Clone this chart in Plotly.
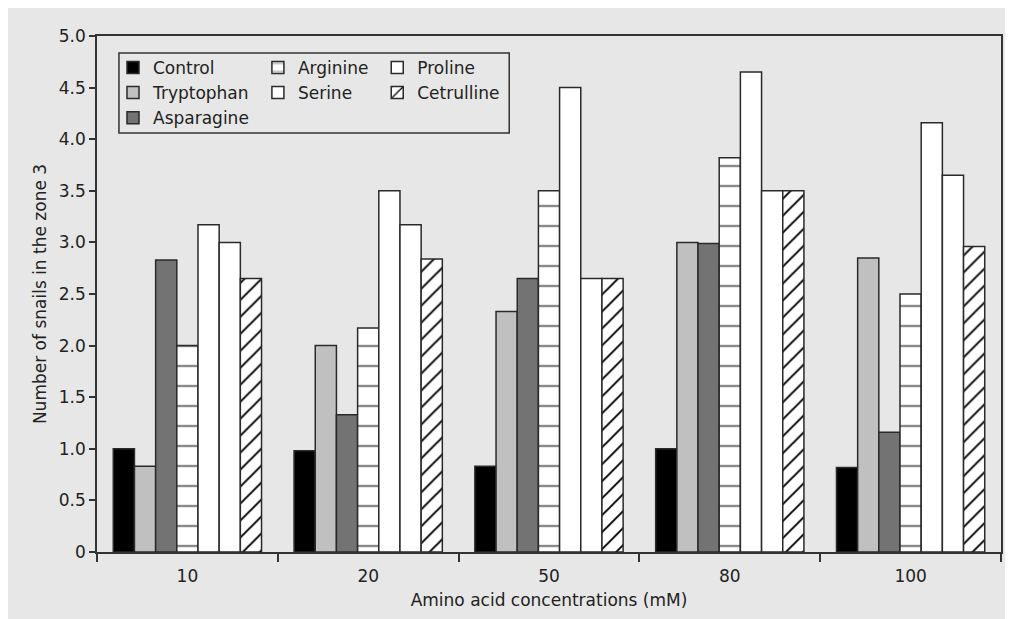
import plotly.graph_objects as go

categories = ["10", "20", "50", "80", "100"]
series_names = ["Control", "Tryptophan", "Asparagine", "Arginine", "Serine", "Proline", "Cetrulline"]
control = [1.0, 0.98, 0.83, 1.0, 0.82]
tryptophan = [0.83, 2.0, 2.33, 3.0, 2.85]
asparagine = [2.83, 1.33, 2.65, 2.99, 1.16]
arginine = [2.0, 2.17, 3.5, 3.82, 2.5]
serine = [3.17, 3.5, 4.5, 4.65, 4.16]
proline = [3.0, 3.17, 2.65, 3.5, 3.65]
cetrulline = [2.65, 2.84, 2.65, 3.5, 2.96]
y_tick_vals = [0, 0.5, 1.0, 1.5, 2.0, 2.5, 3.0, 3.5, 4.0, 4.5, 5.0]
y_tick_text = ["0", "0.5", "1.0", "1.5", "2.0", "2.5", "3.0", "3.5", "4.0", "4.5", "5.0"]

values = [control, tryptophan, asparagine, arginine, serine, proline, cetrulline]
fills = ["#000000", "#c0c0c0", "#737373", "#ffffff", "#ffffff", "#ffffff", "#ffffff"]
patterns = [None, None, None,
            dict(shape="-", fgcolor="#8a8a8a", bgcolor="#ffffff", size=20, solidity=0.12, fgopacity=1),
            None, None,
            dict(shape="/", fgcolor="#000000", bgcolor="#ffffff", size=12, solidity=0.16, fgopacity=1)]
legends = ["legend", "legend", "legend", "legend2", "legend2", "legend3", "legend3"]

BG = "#e7e7e7"
FONT = "DejaVu Sans"

fig = go.Figure()
for name, vals, col, pat, lg in zip(series_names, values, fills, patterns, legends):
    marker = dict(color=col, line=dict(color="#2a2a2a", width=1.5))
    if pat is not None:
        marker["pattern"] = pat
    fig.add_trace(go.Bar(x=categories, y=vals, name=name, marker=marker, legend=lg))

leg_common = dict(bgcolor="rgba(0,0,0,0)", borderwidth=0, font=dict(family=FONT, size=17, color="#222"),
                  yanchor="top", y=0.973, xanchor="left", tracegroupgap=0, itemwidth=30)

fig.update_layout(
    width=1005, height=611,
    paper_bgcolor=BG, plot_bgcolor=BG,
    margin=dict(l=89, r=10, t=28, b=67),
    barmode="group", bargap=0.18, bargroupgap=0,
    font=dict(family=FONT, size=17, color="#222"),
    showlegend=True,
    legend=dict(x=0.0177, **leg_common),
    legend2=dict(x=0.178, **leg_common),
    legend3=dict(x=0.310, **leg_common),
    shapes=[dict(type="rect", xref="paper", yref="paper", x0=0.0243, x1=0.456, y0=0.812, y1=0.967,
                 line=dict(color="#333", width=1.5), fillcolor="rgba(0,0,0,0)")],
    xaxis=dict(
        showline=True, linecolor="#333", linewidth=1.5, mirror=True,
        ticks="outside", tickson="boundaries", ticklen=8, tickcolor="#333", tickwidth=1.5,
        ticklabelstandoff=8,
        tickfont=dict(family=FONT, size=17, color="#222"),
        title=dict(text="Amino acid concentrations (mM)", font=dict(family=FONT, size=17, color="#222"), standoff=9),
        showgrid=False,
    ),
    yaxis=dict(
        range=[0, 5.0], tickvals=y_tick_vals, ticktext=y_tick_text,
        showline=True, linecolor="#333", linewidth=1.5, mirror=True,
        ticks="outside", ticklen=6, tickcolor="#333", tickwidth=1.5,
        tickfont=dict(family=FONT, size=17, color="#222"),
        title=dict(text="Number of snails in the zone 3", font=dict(family=FONT, size=17, color="#222"), standoff=8),
        showgrid=False, zeroline=False,
    ),
)

fig.write_html("out.html")
